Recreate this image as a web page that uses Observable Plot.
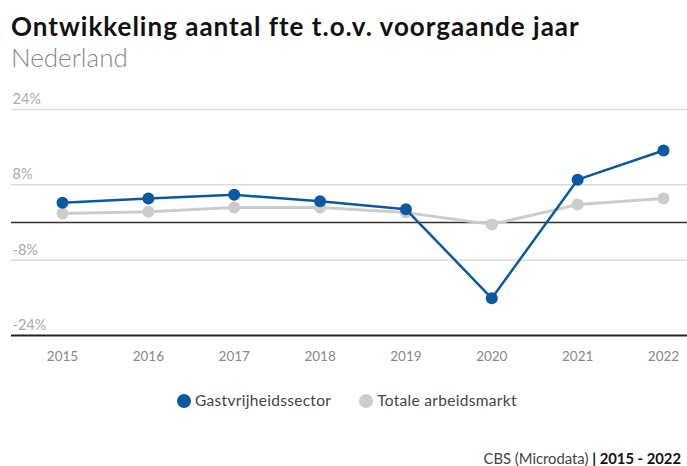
<!DOCTYPE html>
<html><head><meta charset="utf-8">
<script src="https://cdn.jsdelivr.net/npm/d3@7"></script>
<script src="https://cdn.jsdelivr.net/npm/@observablehq/plot@0.6"></script>
<style>
body{margin:0;background:#fff;font-family:Lato,"Open Sans",sans-serif;width:687px;height:466px;overflow:hidden;position:relative}
#title{position:absolute;left:11px;top:10px;font-size:26px;font-weight:700;color:#111;white-space:nowrap;letter-spacing:1px}
#sub{position:absolute;left:11px;top:41px;font-size:26px;font-weight:300;color:#888;white-space:nowrap}
#chart{position:absolute;left:0;top:80px}
#legend{position:absolute;left:177px;top:391px;font-size:15.5px;color:#444;white-space:nowrap;letter-spacing:0.3px}
#legend span.item{display:inline-block;margin-right:28px}
#legend .sw{display:inline-block;width:14px;height:14px;border-radius:50%;vertical-align:-2px;margin-right:4px}
#caption{position:absolute;right:6px;top:451px;font-size:14.8px;line-height:15px;color:#444;white-space:nowrap;text-align:right}
</style></head>
<body>
<div id="title">Ontwikkeling aantal fte t.o.v. voorgaande jaar</div>
<div id="sub">Nederland</div>
<div id="chart"></div>
<div id="legend"></div>
<div id="caption">CBS (Microdata) <b style="color:#111">| 2015 - 2022</b></div>
<script>
const years = [2015, 2016, 2017, 2018, 2019, 2020, 2021, 2022];
const gastvrijheid = [4.2, 5.1, 5.9, 4.5, 2.8, -16.1, 9.1, 15.3];
const totaal = [1.9, 2.3, 3.2, 3.2, 2.1, -0.4, 3.8, 5.1];
const seriesNames = ["Gastvrijheidssector", "Totale arbeidsmarkt"];
const seriesColors = ["#0b58a3", "#cccccc"];
const yTicks = [24, 8, -8, -24];

const rows = years.map((y, i) => ({year: y, value: totaal[i], series: seriesNames[1]}));
const rowsB = years.map((y, i) => ({year: y, value: gastvrijheid[i], series: seriesNames[0]}));

const plot = Plot.plot({
  width: 687,
  height: 285,
  marginLeft: 11,
  marginRight: 0,
  marginTop: 29,
  marginBottom: 30,
  style: {fontFamily: "Lato, 'Open Sans', sans-serif", background: "transparent"},
  x: {type: "linear", domain: [2015, 2022], insetLeft: 51, insetRight: 24, axis: null},
  y: {domain: [-24, 24], axis: null},
  marks: [
    Plot.ruleY([24, 8, -8], {stroke: "#dcdcdc", strokeWidth: 1.5}),
    Plot.ruleY([0], {stroke: "#333", strokeWidth: 1.5}),
    Plot.ruleY([-24], {stroke: "#222", strokeWidth: 2}),
    Plot.text(yTicks, {y: d => d, frameAnchor: "left", textAnchor: "start", dx: 1, dy: -10, text: d => d + "%", fill: "#aaa", fontSize: 14.5}),
    Plot.text(years, {x: d => d, frameAnchor: "bottom", dy: 25, text: d => String(d), fill: "#888", fontSize: 13.5}),
    Plot.line(rows, {x: "year", y: "value", stroke: seriesColors[1], strokeWidth: 3}),
    Plot.dot(rows, {x: "year", y: "value", r: 6, fill: seriesColors[1]}),
    Plot.line(rowsB, {x: "year", y: "value", stroke: seriesColors[0], strokeWidth: 2.5}),
    Plot.dot(rowsB, {x: "year", y: "value", r: 6, fill: seriesColors[0]})
  ]
});
document.getElementById("chart").appendChild(plot);

const legend = document.getElementById("legend");
seriesNames.forEach((n, i) => {
  const s = document.createElement("span");
  s.className = "item";
  s.innerHTML = `<span class="sw" style="background:${seriesColors[i]}"></span>${n}`;
  legend.appendChild(s);
});
</script>
</body></html>
